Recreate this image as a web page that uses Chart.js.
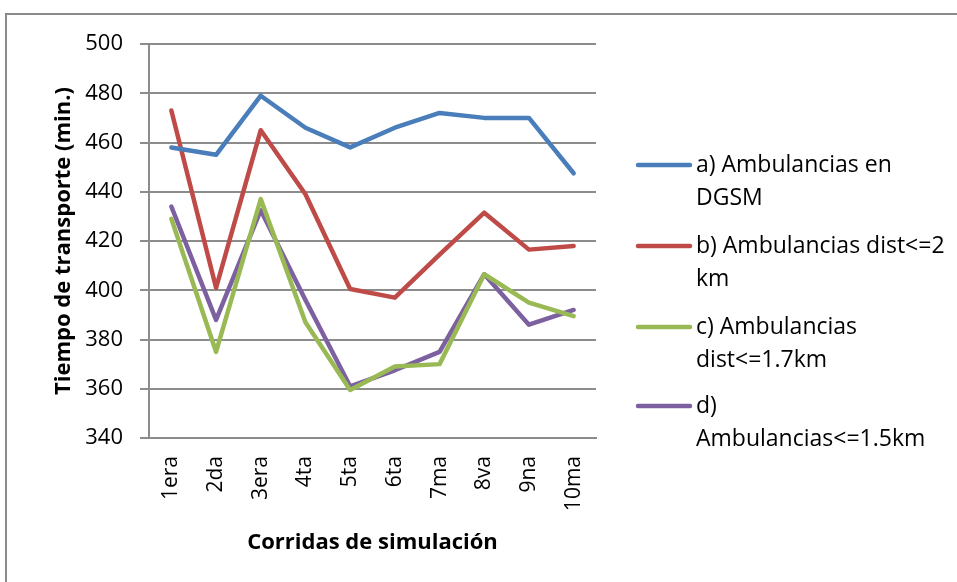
<!DOCTYPE html>
<html>
<head>
<meta charset="utf-8">
<script src="https://cdn.jsdelivr.net/npm/chart.js@4/dist/chart.umd.min.js"></script>
<style>
  html, body { margin:0; padding:0; background:#fff; }
  #wrap { position:relative; width:957px; height:582px; overflow:hidden; }
  #frame { position:absolute; left:5px; top:13px; width:1000px; height:700px; border:2px solid #8a8a8a; box-sizing:border-box; }
  #c { position:absolute; left:0; top:0; }
</style>
</head>
<body>
<div id="wrap">
  <div id="frame"></div>
  <canvas id="c" width="957" height="582"></canvas>
</div>
<script>
// runs of the simulation
const RUNS = ["1era","2da","3era","4ta","5ta","6ta","7ma","8va","9na","10ma"];

// transport time (min.) per scenario
const DGSM     = [458, 455, 479, 466, 458, 466, 472, 470, 470, 447.5];
const DIST_2   = [473, 401, 465, 439, 400.5, 397, 414.5, 431.5, 416.5, 418];
const DIST_17  = [429, 375, 437, 387, 359.5, 369, 370, 406.5, 395, 389.5];
const DIST_15  = [434, 388, 432.5, 396, 361, 367.5, 375, 406.5, 386, 392];

const SERIES_NAMES = [
  "a) Ambulancias en\nDGSM",
  "b) Ambulancias dist<=2\nkm",
  "c) Ambulancias\ndist<=1.7km",
  "d)\nAmbulancias<=1.5km"
];
const COLORS = ["#4a7ebb", "#be4b48", "#98b954", "#7d60a0"];

const Y_MIN = 340, Y_MAX = 500, Y_STEP = 20;

const FONT = "'Open Sans', sans-serif";
const GRID = "#8c8c8c";

function mkSet(label, data, color){
  return {
    label, data,
    borderColor: color, backgroundColor: color,
    borderWidth: 4.5, pointRadius: 0, tension: 0,
    borderCapStyle: "round", borderJoinStyle: "round"
  };
}

// legend drawn on the right, wrapped like the original
const sideLegend = {
  id: "sideLegend",
  afterDraw(chart){
    const ctx = chart.ctx;
    const rows = [165, 246, 327, 406];
    ctx.save();
    ctx.font = "23px " + FONT;
    ctx.textBaseline = "middle";
    ctx.fillStyle = "#000";
    chart.data.datasets.forEach((ds, i) => {
      const y = rows[i];
      ctx.strokeStyle = ds.borderColor;
      ctx.lineWidth = 4.5;
      ctx.lineCap = "round";
      ctx.beginPath();
      ctx.moveTo(638, y);
      ctx.lineTo(690, y);
      ctx.stroke();
      ds.label.split("\n").forEach((line, k) => {
        ctx.fillText(line, 696, y + k * 33);
      });
    });
    ctx.restore();
  }
};

new Chart(document.getElementById("c"), {
  type: "line",
  data: {
    labels: RUNS,
    datasets: [
      mkSet(SERIES_NAMES[0], DGSM, COLORS[0]),
      mkSet(SERIES_NAMES[1], DIST_2, COLORS[1]),
      mkSet(SERIES_NAMES[2], DIST_17, COLORS[2]),
      mkSet(SERIES_NAMES[3], DIST_15, COLORS[3])
    ]
  },
  options: {
    responsive: false,
    animation: false,
    devicePixelRatio: 1,
    layout: { padding: { left: 0, top: 44, right: 361, bottom: 0 } },
    plugins: { legend: { display: false }, tooltip: { enabled: false } },
    scales: {
      x: {
        offset: true,
        grid: { display: false, drawTicks: false },
        border: { display: true, color: GRID, width: 2 },
        ticks: {
          color: "#000", font: { family: FONT, size: 21 },
          minRotation: 90, maxRotation: 90, autoSkip: false, padding: 18
        },
        title: {
          display: true, text: "Corridas de simulación", color: "#000",
          font: { family: FONT, size: 22, weight: "bold" },
          padding: { top: 0, bottom: 26 }
        },
        afterFit(s){ s.height = 144; }
      },
      y: {
        min: Y_MIN, max: Y_MAX,
        grid: { color: GRID, lineWidth: 2, drawTicks: true, tickLength: 9 },
        border: { display: true, color: GRID, width: 2 },
        ticks: {
          stepSize: Y_STEP, color: "#000",
          font: { family: FONT, size: 22 }, padding: 17
        },
        title: {
          display: true, text: "Tiempo de transporte (min.)", color: "#000",
          font: { family: FONT, size: 22, weight: "bold" },
          padding: { top: 51, bottom: 0 }
        },
        afterFit(s){ s.width = 149; }
      }
    }
  },
  plugins: [sideLegend]
});
</script>
</body>
</html>
